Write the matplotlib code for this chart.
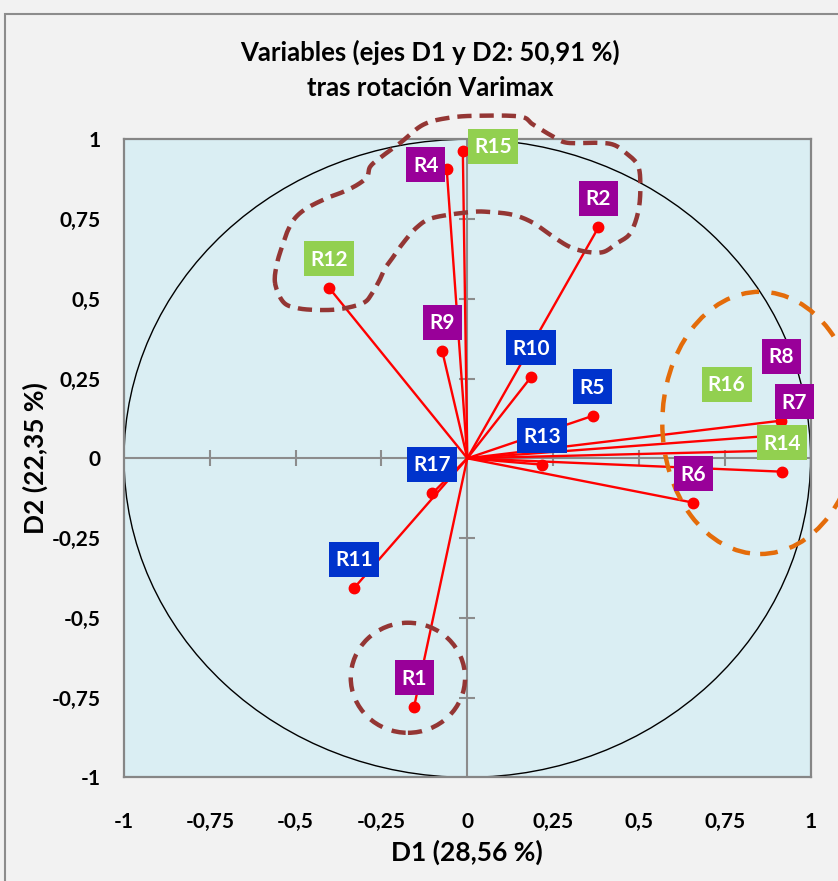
import numpy as np
import matplotlib
matplotlib.use("Agg")
import matplotlib.pyplot as plt
from matplotlib.patches import Ellipse, Rectangle, Circle
from matplotlib.transforms import Affine2D, ScaledTranslation

# ---------------- data ----------------
var_names = ["R1", "R2", "R4", "R5", "R6", "R7", "R8", "R9", "R10",
             "R11", "R12", "R13", "R14", "R15", "R16", "R17"]
d1 = [-0.155, 0.382, -0.060, 0.365, 0.658, 0.914, 0.940, -0.073, 0.186,
      -0.330, -0.403, 0.218, 0.918, -0.013, 0.930, -0.102]
d2 = [-0.779, 0.724, 0.907, 0.133, -0.139, 0.118, 0.075, 0.336, 0.255,
      -0.407, 0.535, -0.020, -0.042, 0.963, 0.025, -0.110]
group = ["p", "p", "p", "b", "p", "p", "p", "p", "b",
         "b", "g", "b", "g", "g", "g", "b"]

tick_vals = [-1, -0.75, -0.5, -0.25, 0, 0.25, 0.5, 0.75, 1]
tick_text = ["-1", "-0,75", "-0,5", "-0,25", "0", "0,25", "0,5", "0,75", "1"]
minor_marks = [-0.75, -0.5, -0.25, 0.25, 0.5, 0.75]

title1 = "Variables (ejes D1 y D2: 50,91 %)"
title2 = "tras rotación Varimax"
xlab = "D1 (28,56 %)"
ylab = "D2 (22,35 %)"

# hand-drawn annotation outlines (data units)
outline_d1 = [-0.560, -0.554, -0.536, -0.522, -0.501, -0.466, -0.408, -0.362,
              -0.321, -0.292, -0.283, -0.254, -0.195, -0.128, -0.050, 0.038,
              0.155, 0.192, 0.251, 0.292, 0.379, 0.426, 0.461, 0.496, 0.504,
              0.499, 0.475, 0.437, 0.397, 0.350, 0.300, 0.251, 0.192, 0.134,
              0.067, 0.009, -0.099, -0.146, -0.187, -0.216, -0.239, -0.254,
              -0.277, -0.303, -0.370, -0.437, -0.496, -0.536]
outline_d2 = [0.549, 0.612, 0.675, 0.716, 0.754, 0.785, 0.816, 0.835,
              0.857, 0.882, 0.914, 0.942, 0.989, 1.046, 1.068, 1.074,
              1.071, 1.046, 1.008, 0.989, 0.989, 0.983, 0.958, 0.920, 0.863,
              0.779, 0.706, 0.675, 0.647, 0.647, 0.662, 0.694, 0.738, 0.763,
              0.772, 0.772, 0.754, 0.725, 0.675, 0.631, 0.597, 0.562,
              0.518, 0.487, 0.468, 0.465, 0.471, 0.490]
r1_circle = (-0.173, -0.688, 0.333, 0.345)      # cx, cy, width, height
right_ellipse = (0.853, 0.111, 0.570, 0.822)

# ---------------- styling / layout ----------------
colors = {"p": "#990099", "b": "#0033CC", "g": "#92D050"}
label_offsets = {"R4": (-21, 4), "R15": (30, 5), "R7": (13, 19),
                 "R8": (-9, 78), "R16": (-60, 66)}
default_offset = (0, 29)
box_h = 35
box_w = {2: 39, 3: 50}

FONT = ["Lato", "DejaVu Sans"]
plt.rcParams["font.family"] = FONT

W, H = 838, 881
fig = plt.figure(figsize=(W / 100, H / 100), dpi=100)
fig.patch.set_facecolor("#F2F2F2")

# outer chart border (partially cropped)
fig.add_artist(Rectangle((5 / W, -0.1), 2, (H - 14) / H + 0.1,
                         transform=fig.transFigure, fill=False,
                         edgecolor="#8C8C8C", lw=1.5, zorder=0))

left, right, top, bottom = 124, 810.6, 139.3, 777.3
ax = fig.add_axes([left / W, 1 - bottom / H, (right - left) / W, (bottom - top) / H])
ax.set_facecolor("#DAEEF3")
ax.set_xlim(-1, 1)
ax.set_ylim(-1, 1)
for s in ax.spines.values():
    s.set_color("#868686")
    s.set_linewidth(1.6)

ax.set_xticks(tick_vals)
ax.set_xticklabels(tick_text)
ax.set_yticks(tick_vals)
ax.set_yticklabels(tick_text)
ax.tick_params(length=0, labelsize=15)
ax.tick_params(axis="x", pad=25)
ax.tick_params(axis="y", pad=17)
for t in ax.get_xticklabels() + ax.get_yticklabels():
    t.set_fontweight("bold")

# unit circle
ax.add_patch(Circle((0, 0), 1, fill=False, edgecolor="black", lw=1.0, zorder=1))

# zero axes with marks
ax.axhline(0, color="#8C8C8C", lw=1.5, zorder=1.5)
ax.axvline(0, color="#8C8C8C", lw=1.5, zorder=1.5)
ax.plot(minor_marks, [0] * len(minor_marks), linestyle="none", marker="|",
        ms=11, mew=1.5, color="#8C8C8C", zorder=1.5)
ax.plot([0] * len(minor_marks), minor_marks, linestyle="none", marker="_",
        ms=11, mew=1.5, color="#8C8C8C", zorder=1.5)

# vectors
for x, y in zip(d1, d2):
    ax.plot([0, x], [0, y], color="#FF0000", lw=1.7, zorder=3, solid_capstyle="butt")
ax.plot(d1, d2, linestyle="none", marker="o", ms=7.5, color="#FF0000", zorder=4)


def closed_spline(xs, ys, n=10):
    P = np.column_stack([xs, ys])
    N = len(P)
    out = []
    t = np.linspace(0, 1, n, endpoint=False)[:, None]
    for i in range(N):
        p0, p1, p2, p3 = P[(i - 1) % N], P[i], P[(i + 1) % N], P[(i + 2) % N]
        pts = 0.5 * ((2 * p1) + (-p0 + p2) * t + (2 * p0 - 5 * p1 + 4 * p2 - p3) * t ** 2
                     + (-p0 + 3 * p1 - 3 * p2 + p3) * t ** 3)
        out.append(pts)
    out = np.vstack(out)
    return np.vstack([out, out[:1]])


brown = "#943634"
sp = closed_spline(outline_d1, outline_d2)
ax.plot(sp[:, 0], sp[:, 1], color=brown, lw=3.2, linestyle=(0, (3.2, 1.8)),
        clip_on=False, zorder=5)
cx, cy, cw, ch = r1_circle
ax.add_patch(Ellipse((cx, cy), cw, ch, fill=False, edgecolor=brown, lw=3.2,
                     linestyle=(0, (3.2, 2.2)), zorder=5))
ex, ey, ew, eh = right_ellipse
ax.add_patch(Ellipse((ex, ey), ew, eh, fill=False, edgecolor="#E46C0A", lw=3.2,
                     linestyle=(0, (4.0, 2.8)), clip_on=False, zorder=5))

# labels (fixed-size boxes in pixels, anchored at each point)
for name, x, y, g in zip(var_names, d1, d2, group):
    dx, dy = label_offsets.get(name, default_offset)
    w = box_w[len(name)]
    tr = Affine2D() + ScaledTranslation(x, y, ax.transData)
    ax.add_patch(Rectangle((dx - w / 2, dy - box_h / 2), w, box_h, transform=tr,
                           facecolor=colors[g], edgecolor="none", zorder=6,
                           clip_on=False))
    ax.annotate(name, (x, y), xytext=(dx, dy - 1), textcoords="offset pixels",
                ha="center", va="center", fontsize=15, fontweight="bold",
                color="white", zorder=7, annotation_clip=False)

# titles and axis labels
fig.text(430 / W, 1 - 52 / H, title1, ha="center", va="center",
         fontsize=18.5, fontweight="bold")
fig.text(430 / W, 1 - 88 / H, title2, ha="center", va="center",
         fontsize=18.5, fontweight="bold")
fig.text(467 / W, 1 - 852 / H, xlab, ha="center", va="center",
         fontsize=19, fontweight="bold")
fig.text(35 / W, 1 - 458 / H, ylab, ha="center", va="center", rotation=90,
         fontsize=19, fontweight="bold")

fig.savefig("out.png", dpi=100, facecolor=fig.get_facecolor())
